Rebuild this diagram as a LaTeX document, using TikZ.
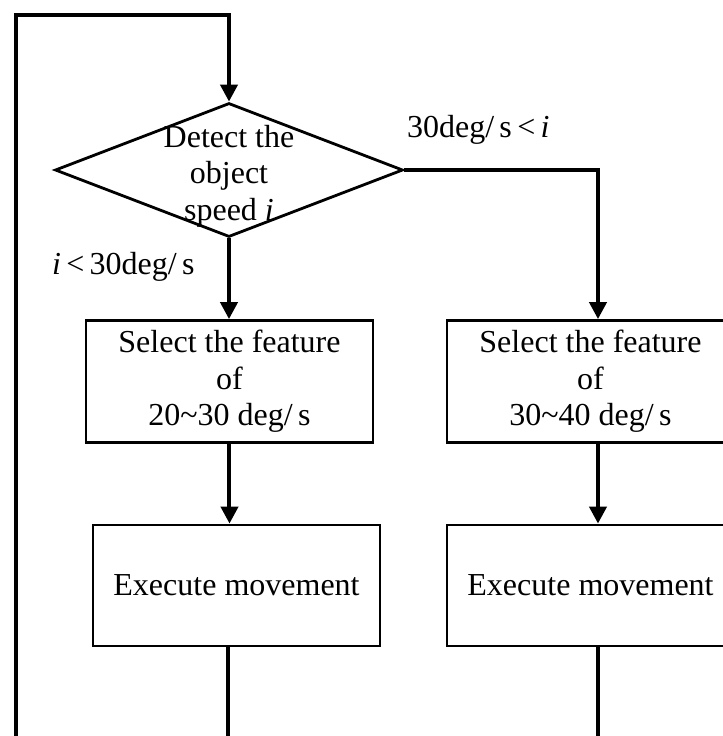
\documentclass[tikz,border=0pt]{standalone}
\usepackage{fontspec}
\setmainfont{Liberation Serif}
\usetikzlibrary{shapes.geometric,arrows.meta,positioning,calc}

\tikzset{
  box/.style={draw, line width=1.4pt, minimum width=143.5pt, minimum height=61pt, inner sep=0pt, align=center},
  decision/.style={draw, diamond, line width=1.4pt, minimum width=174pt, minimum height=67pt, inner sep=0pt},
  flow/.style={line width=2pt, -{Triangle[length=8.5pt,width=8.5pt]}},
  wire/.style={line width=2pt},
}

\begin{document}
\begin{tikzpicture}[x=0.5pt, y=-0.5pt, font=\fontsize{16}{18.2}\selectfont]
    \useasboundingbox (0,0) rectangle (723,736);

    % Decision
    \node[decision] (dec) at (229,170) {};
    \node[align=center] (dectxt) at (229,176) {Detect the\\object\\speed \textit{i}};
    \node[anchor=west] (lblhi) at (400,130) {30deg/\,s\,<\,\textit{i}};
    \node[anchor=west] (lbllo) at (45,267) {\textit{i}\,<\,30deg/\,s};

    % Feature selection
    \node[box] (sel1) at (229.5,381.5) {Select the feature\\of\\20\textasciitilde30 deg/\,s};
    \node[box] (sel2) at (590.5,381.5) {Select the feature\\of\\30\textasciitilde40 deg/\,s};

    % Movement
    \node[box, minimum height=60.5pt] (exe1) at (236.5,585.5) {Execute movement};
    \node[box, minimum height=60.5pt] (exe2) at (590.5,585.5) {Execute movement};

    \coordinate (turn) at (598,170);
    \coordinate (looptop) at (16,15);
    \coordinate (loopbot) at (16,740);
    \coordinate (endl) at (228,740);
    \coordinate (endr) at (598,740);

    % Connectors
    \draw[flow] (loopbot) -- (looptop) -- (looptop -| dec.north) -- (dec.north);
    \draw[flow] (dec.south) -- (dec.south |- sel1.north);
    \draw[flow] (dec.east) -- (turn) -- (turn |- sel2.north);
    \draw[flow] (sel1.south) -- (sel1.south |- exe1.north);
    \draw[flow] (turn |- sel2.south) -- (turn |- exe2.north);
    \draw[wire] (endl |- exe1.south) -- (endl);
    \draw[wire] (endr |- exe2.south) -- (endr);
\end{tikzpicture}
\end{document}
